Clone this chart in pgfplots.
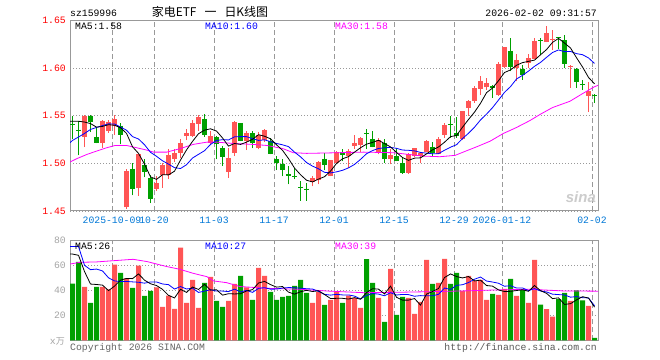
\documentclass[border=0pt]{standalone}
\usepackage{pgfplots}
\pgfplotsset{compat=1.18}
\usepackage{pgfplotstable}
\usepackage{fontspec}
\setmainfont{Liberation Sans}
\setmonofont{Liberation Mono}
\newfontfamily\cjk{Noto Sans CJK SC}
\definecolor{kred}{RGB}{255,85,85}
\definecolor{kgreen}{RGB}{0,160,0}
\definecolor{axgray}{RGB}{153,153,153}
\definecolor{xlab}{RGB}{0,120,215}
\definecolor{vlab}{RGB}{165,165,165}
\definecolor{mablue}{RGB}{0,0,255}
\definecolor{mapink}{RGB}{255,0,255}

% red candles (close > open): k O H L C volume
\pgfplotstableread{
k O H L C V
2 1.5275 1.5507 1.5171 1.5502 42.7
5 1.5212 1.5460 1.5160 1.5442 42.7
6 1.5338 1.5460 1.5321 1.5439 40.8
7 1.5390 1.5513 1.5303 1.5471 60.5
9 1.4537 1.4945 1.4522 1.4919 49.6
11 1.4746 1.5094 1.4658 1.5094 59.7
14 1.4728 1.4867 1.4710 1.4791 42.4
15 1.4874 1.5007 1.4746 1.4979 26.7
16 1.4878 1.5146 1.4833 1.5084 35.7
17 1.5049 1.5154 1.5010 1.5105 25.1
18 1.5110 1.5251 1.5060 1.5214 74.1
19 1.5286 1.5366 1.5241 1.5321 29.9
20 1.5286 1.5457 1.5282 1.5429 48.3
21 1.5418 1.5513 1.5345 1.5486 25.9
23 1.5217 1.5345 1.5199 1.5286 50.7
26 1.4909 1.5164 1.4848 1.5060 31.5
27 1.5112 1.5442 1.5076 1.5432 45.1
29 1.5233 1.5345 1.5139 1.5321 42.4
31 1.5164 1.5327 1.5146 1.5303 57.9
32 1.5248 1.5356 1.5223 1.5353 51.5
40 1.4804 1.4867 1.4759 1.4843 29.9
41 1.4825 1.5024 1.4780 1.5018 38.7
43 1.4867 1.5037 1.4864 1.5035 32.3
44 1.5007 1.5126 1.4990 1.5122 38.7
46 1.5073 1.5154 1.4948 1.5131 35.7
47 1.5181 1.5293 1.5154 1.5217 34.0
48 1.5188 1.5272 1.5115 1.5267 25.9
51 1.5120 1.5262 1.5094 1.5246 33.9
53 1.5042 1.5146 1.4990 1.5091 57.1
56 1.4903 1.5112 1.4892 1.5101 33.9
57 1.5076 1.5157 1.5063 1.5157 21.1
58 1.5076 1.5112 1.5000 1.5105 30.7
59 1.5122 1.5241 1.5115 1.5233 64.3
61 1.5101 1.5275 1.5094 1.5251 45.9
62 1.5296 1.5426 1.5269 1.5408 65.1
65 1.5251 1.5547 1.5246 1.5547 39.5
66 1.5583 1.5669 1.5495 1.5659 51.5
67 1.5659 1.5809 1.5638 1.5792 47.5
68 1.5785 1.5920 1.5722 1.5868 48.3
69 1.5798 1.5896 1.5774 1.5844 32.3
71 1.5722 1.6060 1.5711 1.6043 36.3
72 1.6007 1.6224 1.6004 1.6221 41.1
74 1.6001 1.6147 1.5861 1.6088 35.5
76 1.6053 1.6147 1.6001 1.6106 29.9
77 1.6095 1.6315 1.6095 1.6287 64.3
79 1.6273 1.6447 1.6271 1.6367 25.0
80 1.6292 1.6402 1.6192 1.6302 19.0
83 1.6015 1.6030 1.5792 1.6025 31.5
86 1.5711 1.5858 1.5537 1.5764 27.5
}\redc

% green candles (close < open): k O H L C volume
\pgfplotstableread{
k O H L C V
0 1.5412 1.5502 1.5251 1.5402 45.3
1 1.5353 1.5450 1.5084 1.5343 62.7
3 1.5502 1.5507 1.5327 1.5432 29.9
4 1.5279 1.5382 1.5210 1.5217 42.7
8 1.5397 1.5426 1.5199 1.5303 53.9
10 1.4945 1.5007 1.4665 1.4735 41.9
12 1.4979 1.5042 1.4854 1.4909 35.5
13 1.4850 1.4874 1.4582 1.4631 39.5
22 1.5468 1.5523 1.5282 1.5293 45.9
24 1.5279 1.5286 1.5042 1.5199 31.5
25 1.5164 1.5181 1.4972 1.5070 26.7
28 1.5426 1.5426 1.5230 1.5233 51.5
30 1.5314 1.5338 1.5157 1.5217 32.3
33 1.5233 1.5269 1.5094 1.5094 38.7
34 1.5042 1.5076 1.4930 1.5007 32.3
35 1.4997 1.5042 1.4864 1.4930 34.7
36 1.4885 1.4969 1.4780 1.4867 35.5
37 1.4864 1.4955 1.4833 1.4854 43.5
38 1.4756 1.4815 1.4606 1.4742 48.3
39 1.4735 1.4798 1.4606 1.4718 37.9
42 1.5049 1.5105 1.4930 1.4982 28.3
45 1.5120 1.5152 1.5021 1.5084 29.9
49 1.5319 1.5356 1.5146 1.5309 65.0
50 1.5258 1.5338 1.5167 1.5173 45.9
52 1.5217 1.5258 1.5007 1.5042 14.7
54 1.5076 1.5164 1.5021 1.5024 20.3
55 1.5000 1.5060 1.4892 1.4903 34.7
60 1.5175 1.5223 1.5066 1.5112 45.1
63 1.5413 1.5495 1.5269 1.5403 45.1
64 1.5314 1.5492 1.5269 1.5290 53.9
70 1.5809 1.5819 1.5687 1.5792 37.1
73 1.6182 1.6321 1.5965 1.6007 49.1
75 1.5994 1.6028 1.5879 1.5931 40.3
78 1.6297 1.6318 1.6140 1.6287 28.5
81 1.6323 1.6325 1.6198 1.6313 33.0
82 1.6292 1.6352 1.6001 1.6043 38.0
84 1.5994 1.6004 1.5795 1.5858 40.0
85 1.5832 1.5879 1.5774 1.5821 32.0
87 1.5717 1.5732 1.5638 1.5706 1.9
}\greenc

% price MA5
\pgfplotstableread{
k v
-0.42 1.5442
0 1.5442
1 1.5442
2 1.5434
3 1.5418
4 1.5380
5 1.5388
6 1.5406
7 1.5400
8 1.5374
9 1.5315
10 1.5174
11 1.5105
12 1.4992
13 1.4858
14 1.4832
15 1.4881
16 1.4879
17 1.4918
18 1.5035
19 1.5141
20 1.5231
21 1.5311
22 1.5349
23 1.5363
24 1.5339
25 1.5267
26 1.5181
27 1.5209
28 1.5199
29 1.5223
30 1.5253
31 1.5301
32 1.5285
33 1.5258
34 1.5195
35 1.5137
36 1.5050
37 1.4951
38 1.4881
39 1.4823
40 1.4805
41 1.4835
42 1.4860
43 1.4919
44 1.5000
45 1.5048
46 1.5071
47 1.5118
48 1.5164
49 1.5202
50 1.5220
51 1.5243
52 1.5208
53 1.5173
54 1.5115
55 1.5061
56 1.5032
57 1.5055
58 1.5058
59 1.5100
60 1.5142
61 1.5172
62 1.5222
63 1.5281
64 1.5293
65 1.5380
66 1.5461
67 1.5538
68 1.5631
69 1.5742
70 1.5791
71 1.5868
72 1.5954
73 1.5981
74 1.6030
75 1.6058
76 1.6071
77 1.6084
78 1.6140
79 1.6195
80 1.6270
81 1.6312
82 1.6263
83 1.6211
84 1.6109
85 1.6012
86 1.5902
87 1.5835
}\pmaA

% price MA10
\pgfplotstableread{
k v
-0.42 1.5217
0 1.5241
1 1.5277
2 1.5314
3 1.5356
4 1.5377
5 1.5397
6 1.5415
7 1.5413
8 1.5382
9 1.5348
10 1.5281
11 1.5256
12 1.5196
13 1.5116
14 1.5074
15 1.5027
16 1.4992
17 1.4955
18 1.4946
19 1.4986
20 1.5056
21 1.5095
22 1.5133
23 1.5199
24 1.5240
25 1.5249
26 1.5246
27 1.5279
28 1.5281
29 1.5281
30 1.5260
31 1.5241
32 1.5247
33 1.5228
34 1.5209
35 1.5195
36 1.5176
37 1.5118
38 1.5069
39 1.5009
40 1.4971
41 1.4943
42 1.4906
43 1.4900
44 1.4911
45 1.4927
46 1.4953
47 1.4989
48 1.5042
49 1.5101
50 1.5134
51 1.5157
52 1.5163
53 1.5168
54 1.5158
55 1.5140
56 1.5137
57 1.5131
58 1.5115
59 1.5107
60 1.5101
61 1.5102
62 1.5138
63 1.5170
64 1.5196
65 1.5261
66 1.5316
67 1.5380
68 1.5456
69 1.5517
70 1.5585
71 1.5665
72 1.5746
73 1.5806
74 1.5886
75 1.5924
76 1.5969
77 1.6019
78 1.6060
79 1.6113
80 1.6164
81 1.6191
82 1.6173
83 1.6175
84 1.6152
85 1.6141
86 1.6107
87 1.6049
}\pmaB

% price MA30
\pgfplotstableread{
k v
-0.42 1.5014
0.7 1.5049
2.4 1.5094
4 1.5129
5.7 1.5164
7.1 1.5188
9 1.5188
10.7 1.5164
12.4 1.5139
13.5 1.5118
15.7 1.5118
17.9 1.5154
20.1 1.5199
22.4 1.5223
24 1.5223
26.8 1.5209
30.1 1.5199
32.4 1.5188
35.1 1.5154
36.8 1.5112
39 1.5105
42.9 1.5110
48.5 1.5118
53.5 1.5112
58.5 1.5076
61.25 1.5070
63.75 1.5084
65.1 1.5118
67.4 1.5175
69.6 1.5233
71.8 1.5314
72.9 1.5345
74 1.5377
76.25 1.5450
77.9 1.5513
80 1.5586
82.9 1.5652
85 1.5732
87 1.5805
87.58 1.5819
}\pmaC

% volume MA5
\pgfplotstableread{
k v
-0.42 69
0 69
1 68
2 55
3 45
4 44.66
5 44.14
6 39.76
7 43.32
8 48.12
9 49.5
10 49.34
11 53.12
12 48.12
13 45.24
14 43.8
15 40.76
16 35.96
17 33.88
18 40.8
19 38.3
20 42.62
21 40.66
22 44.82
23 40.14
24 40.46
25 36.14
26 37.26
27 37.1
28 37.26
29 39.44
30 40.56
31 45.84
32 47.12
33 44.56
34 42.54
35 43.02
36 38.54
37 36.94
38 38.86
39 39.98
40 39.02
41 39.66
42 36.62
43 33.42
44 33.58
45 33.58
46 32.98
47 34.12
48 32.84
49 38.1
50 41.3
51 40.94
52 37.08
53 43.32
54 34.38
55 32.14
56 32.14
57 33.42
58 28.14
59 36.94
60 39.02
61 41.42
62 50.22
63 53.1
64 51.02
65 49.9
66 51.02
67 47.5
68 48.14
69 43.82
70 43.34
71 40.3
72 39.02
73 39.18
74 39.82
75 40.46
76 39.18
77 43.82
78 39.7
79 37.6
80 33.34
81 33.96
82 28.7
83 29.3
84 32.3
85 34.9
86 33.8
87 26.58
}\vmaA

% volume MA10
\pgfplotstableread{
k v
-0.42 75
0 75
1 75
2 60
3 56.5
4 57
5 55.5
6 50
7 47.5
8 47
9 47.08
10 46.74
11 46.44
12 45.72
13 46.68
14 46.65
15 45.05
16 44.54
17 41
18 43.02
19 41.05
20 41.69
21 38.31
22 39.35
23 40.47
24 39.38
25 39.38
26 38.96
27 40.96
28 38.7
29 39.95
30 38.35
31 41.55
32 42.11
33 40.91
34 40.99
35 41.79
36 42.19
37 42.03
38 41.71
39 41.26
40 41.02
41 39.1
42 36.78
43 36.14
44 36.78
45 36.3
46 36.32
47 35.37
48 33.13
49 35.84
50 37.44
51 36.96
52 35.6
53 38.08
54 36.24
55 36.72
56 36.54
57 35.25
58 35.73
59 35.66
60 35.58
61 36.78
62 41.82
63 40.62
64 43.98
65 44.46
66 46.22
67 48.86
68 50.62
69 47.42
70 46.62
71 45.66
72 43.26
73 43.66
74 41.82
75 41.9
76 39.74
77 41.42
78 39.44
79 38.71
80 36.9
81 36.57
82 36.26
83 34.5
84 34.95
85 34.12
86 33.88
87 27.64
}\vmaB

% volume MA30
\pgfplotstableread{
k v
-0.42 61
1.25 62.4
4 62.7
6.25 63.5
10.1 64.8
12.4 63
15.7 59
17.9 56.8
20.1 53.6
22.4 50.9
23.5 47.5
25.7 46.1
27.9 43
32.4 41.6
37.9 40.8
42.9 39.3
48.5 38.1
54 38.4
59.6 38.9
65.1 39.5
70.7 40.3
76.25 40.8
81.8 39.5
87.58 39.3
}\vmaC

\pgfplotsset{
  kbase/.style={
    scale only axis, width=528bp,
    xmin=-0.42, xmax=87.58,
    axis line style={draw=axgray, line width=1bp},
    major tick length=0pt, tick style={draw=none},
    xtick={6.58,13.58,23.58,33.58,43.58,53.58,63.58,71.58,86.58},
    xmajorgrids, ymajorgrids,
    x grid style={draw=axgray, line width=0.8bp, dash pattern=on 5bp off 3bp},
    y grid style={draw=axgray, line width=0.8bp, dash pattern=on 1bp off 2bp},
    tick label style={font=\fontsize{9.8}{10}\selectfont\ttfamily},
    yticklabel style={inner sep=0pt, xshift=-4bp},
  }
}

\begin{document}
\begin{tikzpicture}
\path[use as bounding box] (0,0) rectangle (660bp,360bp);
\fill[white] (0,0) rectangle (660bp,360bp);

% ---------- price panel ----------
\begin{axis}[kbase, at={(70bp,149bp)}, anchor=south west, height=190.5bp,
  ymin=1.45, ymax=1.65, ytick={1.45,1.5,1.55,1.6,1.65},
  yticklabel style={red, /pgf/number format/.cd, fixed, fixed zerofill, precision=2, assume math mode=true},
  xticklabels={2025-10-09,10-20,11-03,11-17,12-01,12-15,12-29,2026-01-12,02-02},
  xticklabel style={text=xlab, anchor=north, inner sep=0pt, yshift=-5.7bp}]
\addplot[kred, line width=1bp, quiver={u=0, v=\thisrow{H}-\thisrow{L}}] table[x=k, y=L]{\redc};
\addplot[kred, line width=5bp, quiver={u=0, v=\thisrow{C}-\thisrow{O}}] table[x=k, y=O]{\redc};
\addplot[kgreen, line width=1bp, quiver={u=0, v=\thisrow{H}-\thisrow{L}}] table[x=k, y=L]{\greenc};
\addplot[kgreen, line width=5bp, quiver={u=0, v=\thisrow{C}-\thisrow{O}}] table[x=k, y=O]{\greenc};
\addplot[mapink, line width=0.8bp] table[x=k, y=v]{\pmaC};
\addplot[mablue, line width=0.8bp] table[x=k, y=v]{\pmaB};
\addplot[black, line width=0.8bp] table[x=k, y=v]{\pmaA};
\end{axis}

% ---------- volume panel ----------
\begin{axis}[kbase, at={(70bp,19.7bp)}, anchor=south west, height=100bp,
  ymin=0, ymax=80, ytick={20,40,60,80},
  yticklabel style={text=vlab, /pgf/number format/assume math mode=true},
  xticklabels={}]
\addplot[ybar, bar width=5bp, bar shift=0pt, fill=kred, draw=none] table[x=k, y=V]{\redc};
\addplot[ybar, bar width=5bp, bar shift=0pt, fill=kgreen, draw=none] table[x=k, y=V]{\greenc};
\addplot[mapink, line width=0.8bp] table[x=k, y=v]{\vmaC};
\addplot[mablue, line width=0.8bp] table[x=k, y=v]{\vmaB};
\addplot[black, line width=0.8bp] table[x=k, y=v]{\vmaA};
\end{axis}

% ---------- texts ----------
\def\mono{\fontsize{9.8}{10}\selectfont\ttfamily}
\node[anchor=base west, inner sep=0pt] at (70bp,343bp) {\mono sz159996};
\node[anchor=base, inner sep=0pt] at (210bp,343bp) {\cjk\fontsize{12}{12}\selectfont 家电ETF\hspace{8bp}一\hspace{8bp}日K线图};
\node[anchor=base east, inner sep=0pt] at (597bp,343bp) {\mono 2026-02-02 09:31:57};

\node[anchor=base west, inner sep=0pt] at (75bp,330.5bp) {\mono MA5:1.58};
\node[anchor=base west, inner sep=0pt, text=mablue] at (205bp,330.5bp) {\mono MA10:1.60};
\node[anchor=base west, inner sep=0pt, text=mapink] at (335bp,330.5bp) {\mono MA30:1.58};

\node[anchor=base west, inner sep=0pt] at (75bp,110bp) {\mono MA5:26};
\node[anchor=base west, inner sep=0pt, text=mablue] at (205bp,110bp) {\mono MA10:27};
\node[anchor=base west, inner sep=0pt, text=mapink] at (335bp,110bp) {\mono MA30:39};

\node[anchor=base east, inner sep=0pt, text=black!20] at (596bp,157bp) {\fontsize{15}{15}\selectfont\bfseries\itshape sina};

\node[anchor=base east, inner sep=0pt, text=vlab] at (65bp,16bp) {\mono x\cjk\fontsize{9}{9}\selectfont 万};
\node[anchor=base west, inner sep=0pt, text=black!60] at (70bp,10bp) {\mono Copyright 2026 SINA.COM};
\node[anchor=base east, inner sep=0pt, text=black!65] at (597bp,10bp) {\mono http://finance.sina.com.cn};
\end{tikzpicture}
\end{document}
